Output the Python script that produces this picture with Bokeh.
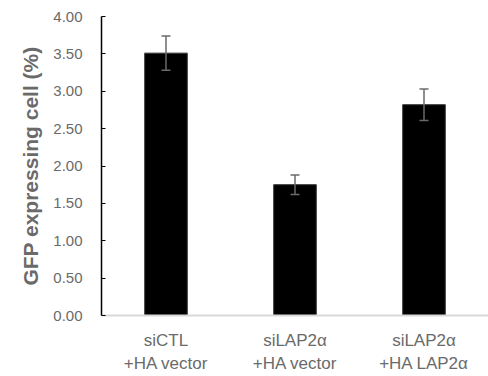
from bokeh.plotting import figure
from bokeh.models import ColumnDataSource, Whisker, TeeHead, Range1d, FactorRange, NumeralTickFormatter, FixedTicker
from bokeh.embed import file_html
from bokeh.resources import INLINE

categories = ["siCTL\n+HA vector", "siLAP2\u03b1\n+HA vector", "siLAP2\u03b1\n+HA LAP2\u03b1"]
values = [3.51, 1.75, 2.82]
errors = [0.23, 0.13, 0.21]
y_ticks = [0, 0.5, 1.0, 1.5, 2.0, 2.5, 3.0, 3.5, 4.0]

src = ColumnDataSource(dict(
    cat=categories,
    val=values,
    upper=[v + e for v, e in zip(values, errors)],
    lower=[v - e for v, e in zip(values, errors)],
))

p = figure(x_range=FactorRange(*categories, range_padding=0), y_range=Range1d(0, 4),
           width=488, height=376, output_backend="svg", toolbar_location=None,
           min_border_left=101, min_border_right=0, min_border_top=16, min_border_bottom=61)

p.vbar(x="cat", top="val", width=0.33, source=src, fill_color="black", line_color="#333333")

w = Whisker(base="cat", upper="upper", lower="lower", source=src, line_color="#6a6a6a", line_width=1.5,
            level="overlay",
            upper_head=TeeHead(size=9, line_color="#6a6a6a", line_width=1.5),
            lower_head=TeeHead(size=9, line_color="#6a6a6a", line_width=1.5))
p.add_layout(w)

p.xgrid.visible = False
p.ygrid.visible = False
p.outline_line_color = None
p.background_fill_color = "white"
p.border_fill_color = "white"

p.yaxis.ticker = FixedTicker(ticks=y_ticks)
p.yaxis.formatter = NumeralTickFormatter(format="0.00")
p.yaxis.axis_line_color = "black"
p.yaxis.axis_line_width = 1.5
p.yaxis.major_tick_in = 4
p.yaxis.major_tick_out = 0
p.yaxis.major_tick_line_color = "black"
p.yaxis.minor_tick_line_color = None
p.yaxis.major_label_text_color = "#6a6a6a"
p.yaxis.major_label_text_font = "Liberation Sans"
p.yaxis.major_label_text_font_size = "15px"
p.yaxis.major_label_standoff = 19
p.yaxis.axis_label = "GFP expressing cell (%)"
p.yaxis.axis_label_text_font = "Liberation Sans"
p.yaxis.axis_label_text_font_size = "21px"
p.yaxis.axis_label_text_font_style = "bold"
p.yaxis.axis_label_text_color = "#6a6a6a"
p.yaxis.axis_label_standoff = 8

p.xaxis.axis_line_color = "#d9d9d9"
p.xaxis.axis_line_width = 2
p.xaxis.major_tick_line_color = None
p.xaxis.minor_tick_line_color = None
p.xaxis.major_label_text_color = "#6a6a6a"
p.xaxis.major_label_text_font = "Liberation Sans"
p.xaxis.major_label_text_font_size = "17px"
p.xaxis.major_label_text_line_height = 1.25
p.xaxis.major_label_standoff = 9

open("out.html", "w").write(file_html(p, INLINE))
